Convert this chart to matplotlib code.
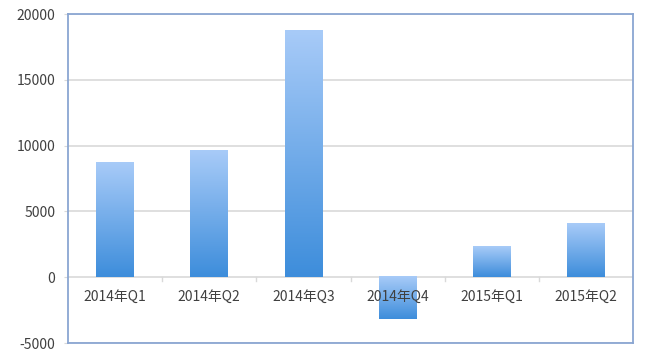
import numpy as np
import matplotlib.pyplot as plt
from matplotlib.colors import LinearSegmentedColormap

plt.rcParams['font.family'] = ['Noto Sans CJK SC', 'DejaVu Sans']

quarters = ['2014年Q1', '2014年Q2', '2014年Q3', '2014年Q4', '2015年Q1', '2015年Q2']
values = [8700, 9600, 18700, -3200, 2300, 4100]
y_ticks = [-5000, 0, 5000, 10000, 15000, 20000]

text_color = '#404040'
frame_color = '#8aa6d2'
grid_color = '#d9d9d9'
grad = LinearSegmentedColormap.from_list('bar', ['#3d8ddb', '#a8cbf8'])

fig = plt.figure(figsize=(6.5, 3.6), dpi=100)
ax = fig.add_axes([0.1046, 0.047, 0.8694, 0.914])

x = np.arange(len(quarters))
bars = ax.bar(x, values, width=0.4, color='none', zorder=3)

# gradient fill: light at top, darker at bottom
g = np.linspace(0, 1, 256).reshape(-1, 1)
for b in bars:
    x0, w = b.get_x(), b.get_width()
    y0, h = b.get_y(), b.get_height()
    lo, hi = min(y0, y0 + h), max(y0, y0 + h)
    ax.imshow(g, cmap=grad, aspect='auto', origin='lower',
              extent=(x0, x0 + w, lo, hi), zorder=3)

ax.set_xlim(-0.5, len(quarters) - 0.5)
ax.set_ylim(y_ticks[0], y_ticks[-1])
ax.set_yticks(y_ticks)
ax.set_yticklabels([str(v) for v in y_ticks])
ax.tick_params(axis='y', length=3, color=grid_color, labelsize=10,
               labelcolor=text_color, pad=6)

ax.yaxis.grid(True, color=grid_color, linewidth=1.2, zorder=0)
ax.set_axisbelow(True)

# category labels and ticks along the zero line
ax.set_xticks([])
for i, q in enumerate(quarters):
    ax.annotate(q, (i, 0), xytext=(0, -14), textcoords='offset points',
                ha='center', va='center', fontsize=10, color=text_color, zorder=4)
for i in range(1, len(quarters)):
    ax.plot([i - 0.5, i - 0.5], [0, -250], color=grid_color, linewidth=1, zorder=2)

for s in ax.spines.values():
    s.set_color(frame_color)
    s.set_linewidth(1.3)

fig.savefig('out.png', dpi=100)
